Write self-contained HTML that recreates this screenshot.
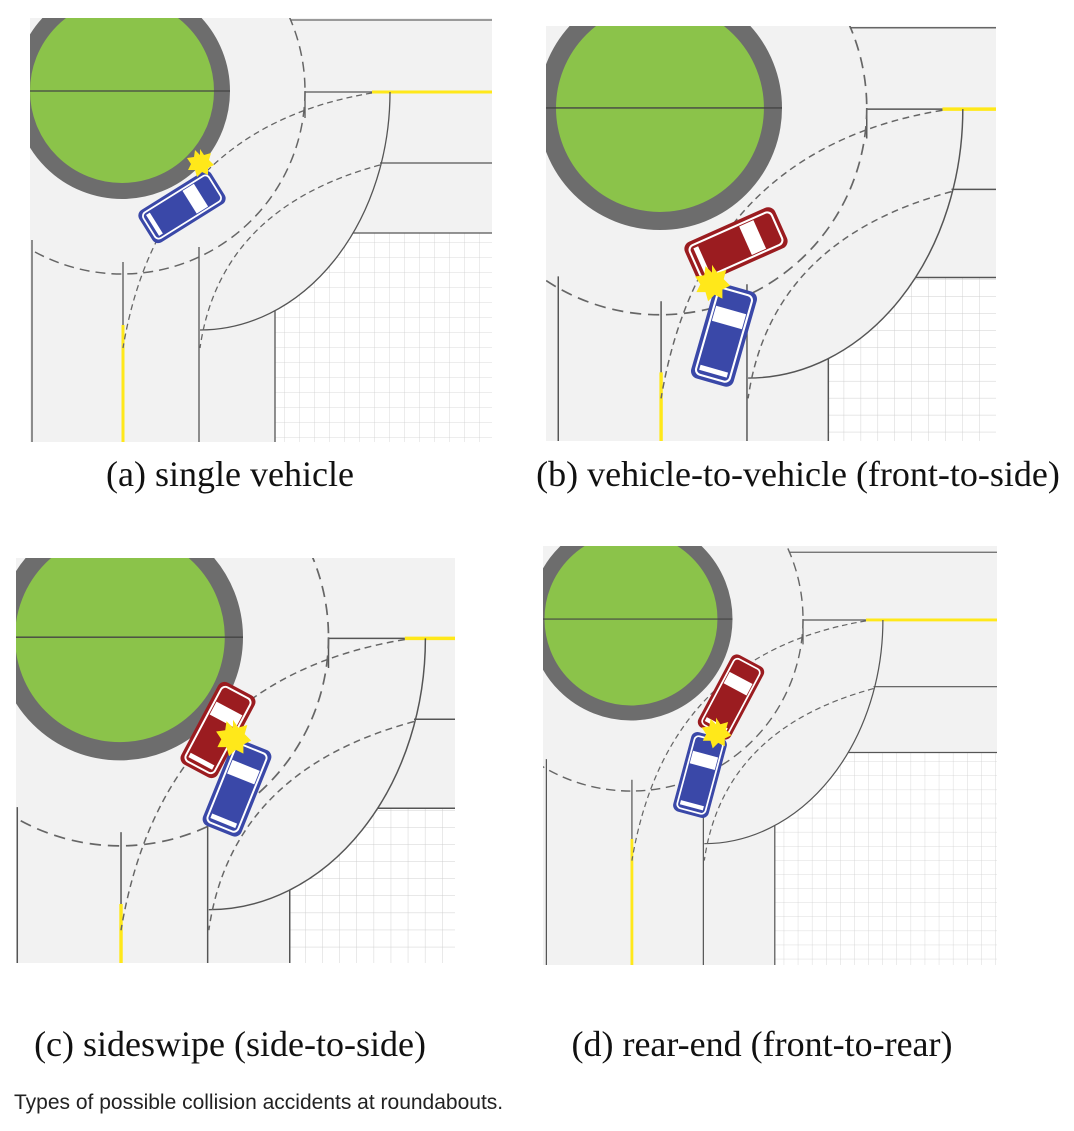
<!DOCTYPE html>
<html><head><meta charset="utf-8"><style>
html,body{margin:0;padding:0;background:#fff;overflow:hidden;}
svg{display:block;}
</style></head><body>
<svg width="1074" height="1131" viewBox="0 0 1074 1131" xmlns="http://www.w3.org/2000/svg">
<defs>
  <pattern id="grid" width="15" height="15" patternUnits="userSpaceOnUse">
    <rect width="15" height="15" fill="#fff"/>
    <path d="M15 0V15M0 15H15" stroke="#cfcfcf" stroke-width="0.8" fill="none"/>
  </pattern>
  <g id="bg">
    <rect x="-50" y="-50" width="700" height="700" fill="#f2f2f2"/>
  </g>
  <g id="common">
    <!-- bypass road fill over grid -->
    <path d="M360 74A190 238 0 0 1 170 312L-20 312L-20 -20L360 -20Z" fill="#f2f2f2"/>
    <!-- top road -->
    <path d="M260 2H560" stroke="#666" stroke-width="1.3"/>
    <path d="M275 74H342" stroke="#555" stroke-width="1.3"/>
    <path d="M275 74V100" stroke="#555" stroke-width="1.3"/>
    <path d="M342 74H560" stroke="#ffe81a" stroke-width="3"/>
    <path d="M350 145H560" stroke="#555" stroke-width="1.3"/>
    <!-- left road -->
    <path d="M2 222V560" stroke="#555" stroke-width="1.3"/>
    <path d="M93 244V307" stroke="#555" stroke-width="1.3"/>
    <path d="M93 307V560" stroke="#ffe81a" stroke-width="3"/>
    <path d="M169 229V560" stroke="#555" stroke-width="1.3"/>
    <!-- island -->
    <circle cx="92" cy="73" r="100" fill="#8bc34a" stroke="#6d6d6d" stroke-width="16"/>
    <path d="M-20 73H200" stroke="#444" stroke-width="1.2"/>
    <!-- outer dashed circle -->
    <circle cx="92" cy="73" r="183" fill="none" stroke="#666" stroke-width="1.5" stroke-dasharray="10 6"/>
    <!-- bypass edge -->
    <path d="M360 74A190 238 0 0 1 170 312" fill="none" stroke="#555" stroke-width="1.3"/>
    <!-- paths -->
    <path d="M342 75Q130 110 93 330" fill="none" stroke="#666" stroke-width="1.3" stroke-dasharray="6 4"/>
    <path d="M350 147Q190 190 170 330" fill="none" stroke="#666" stroke-width="1.3" stroke-dasharray="6 4"/>
  </g>
  <g id="gridA">
    <rect x="245" y="215" width="400" height="400" fill="url(#grid)"/>
    <path d="M315 215H560M245 285V560" stroke="#555" stroke-width="1.3" fill="none"/>
  </g>
  <g id="gridB">
    <path d="M241 600V296A73 73 0 0 1 314 223H600V600Z" fill="url(#grid)"/>
    <path d="M241 600V296A73 73 0 0 1 314 223H600" stroke="#555" stroke-width="1.3" fill="none"/>
  </g>
  <g id="car">
    <rect x="-17" y="-38" width="34" height="76" rx="6" fill="currentColor"/>
    <rect x="-13.5" y="-34.5" width="27" height="69" rx="4" fill="none" stroke="#fff" stroke-width="1.6"/>
    <rect x="-12" y="-20" width="24" height="12" fill="#fff"/>
    <rect x="-11" y="27" width="22" height="4" fill="#fff"/>
  </g>
  <polygon id="star" points="0,-14 4,-8 11,-10 9,-3 14,2 8,5 8,12 2,9 -3,14 -5,7 -12,7 -9,1 -13,-5 -6,-6 -5,-13 0,-8" fill="#ffe81a"/>
  <clipPath id="ca"><rect x="30" y="18" width="462" height="424"/></clipPath>
  <clipPath id="cb"><rect x="546" y="26" width="450" height="415"/></clipPath>
  <clipPath id="cc"><rect x="16" y="558" width="439" height="405"/></clipPath>
  <clipPath id="cd"><rect x="543" y="546" width="454" height="419"/></clipPath>
</defs>

<!-- (a) -->
<g clip-path="url(#ca)">
  <g transform="translate(30,18)">
    <use href="#bg"/>
    <use href="#gridA"/>
    <use href="#common"/>
  </g>
  <use href="#car" color="#3a48a8" transform="translate(182,207) rotate(58) scale(1.12)"/>
  <use href="#star" transform="translate(200,163)"/>
</g>

<!-- (b) -->
<g clip-path="url(#cb)">
  <g transform="translate(556,25.5) scale(1.13)">
    <use href="#bg"/>
    <use href="#gridB"/>
    <use href="#common"/>
  </g>
  <use href="#car" color="#9b1c20" transform="translate(736,245) rotate(66) scale(1.3)"/>
  <use href="#car" color="#3a48a8" transform="translate(724,335) rotate(16) scale(1.3)"/>
  <use href="#star" transform="translate(712,283) scale(1.3)"/>
</g>

<!-- (c) -->
<g clip-path="url(#cc)">
  <g transform="translate(15,554) scale(1.14)">
    <use href="#bg"/>
    <use href="#gridB"/>
    <use href="#common"/>
  </g>
  <use href="#car" color="#9b1c20" transform="translate(218,730) rotate(28) scale(1.22)"/>
  <use href="#car" color="#3a48a8" transform="translate(237,788) rotate(22) scale(1.22)"/>
  <use href="#star" transform="translate(233,738) scale(1.3)"/>
</g>

<!-- (d) -->
<g clip-path="url(#cd)">
  <g transform="translate(544.5,550.4) scale(0.94)">
    <use href="#bg"/>
    <use href="#gridA"/>
    <use href="#common"/>
  </g>
  <use href="#car" color="#9b1c20" transform="translate(731,697) rotate(28) scale(1.08)"/>
  <use href="#car" color="#3a48a8" transform="translate(700,775) rotate(15) scale(1.08)"/>
  <use href="#star" transform="translate(716,733) scale(1.1)"/>
</g>

<g font-family="'Liberation Serif', serif" font-size="36" fill="#111" text-anchor="middle">
  <text x="230" y="486">(a) single vehicle</text>
  <text x="798" y="486">(b) vehicle-to-vehicle (front-to-side)</text>
  <text x="230" y="1056">(c) sideswipe (side-to-side)</text>
  <text x="762" y="1056">(d) rear-end (front-to-rear)</text>
</g>
<text x="14" y="1109" font-family="'Liberation Sans', sans-serif" font-size="21" fill="#222">Types of possible collision accidents at roundabouts.</text>
</svg>
</body></html>
